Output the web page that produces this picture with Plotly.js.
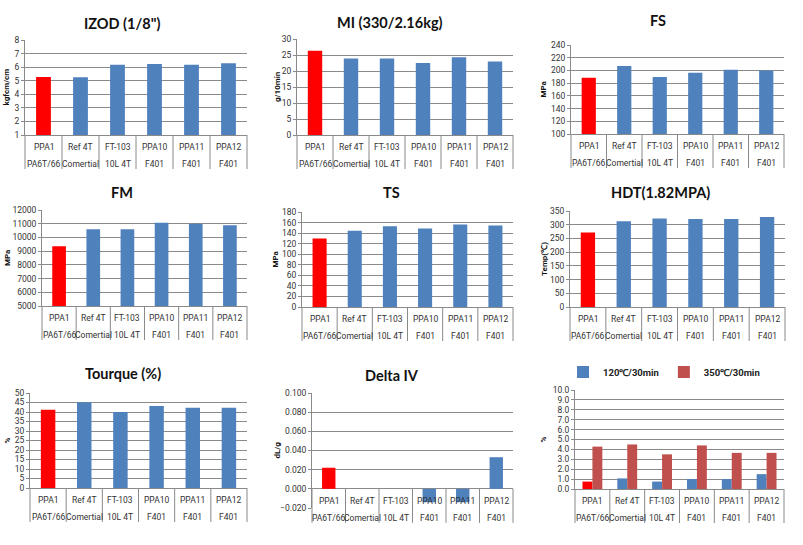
<!DOCTYPE html>
<html><head><meta charset="utf-8">
<script src="https://cdn.plot.ly/plotly-3.0.1.min.js"></script>
<style>html,body{margin:0;padding:0;background:#fff}#chart{width:803px;height:545px}</style>
</head><body><div id="chart"></div>
<script>
// ---- data ----
const cats = ["PPA1", "Ref 4T", "FT-103", "PPA10", "PPA11", "PPA12"];
const grades = ["PA6T/66", "Comertial", "10L 4T", "F401", "F401", "F401"];
const izod = [5.28, 5.26, 6.17, 6.23, 6.17, 6.28];
const mi = [26.3, 23.9, 23.9, 22.5, 24.3, 23.0];
const fs = [188.6, 207, 189.6, 196.5, 201, 199.7];
const fm = [9350, 10590, 10590, 11070, 11000, 10880];
const ts = [130, 144.5, 153, 148.5, 156.5, 154.5];
const hdt = [272, 313, 323, 321, 321, 328];
const torque = [41.2, 45.1, 40, 43.2, 42.3, 42.3];
const deltaIV = [0.022, null, null, -0.014, -0.014, 0.033];
const loss120 = [0.75, 1.07, 0.75, 1.0, 1.0, 1.5];
const loss350 = [4.28, 4.5, 3.5, 4.4, 3.65, 3.65];
const legendNames = ["120℃/30min", "350℃/30min"];

// ---- styling / layout ----
const W = 803, H = 545;
const RED = '#FF0000', BLUE = '#4F81BD', DRED = '#C0504D', GRID = '#8a8a8a', TXT = '#333333';
const FONT = 'Roboto, "Liberation Sans", Arial, sans-serif';
const TFONT = 'Lato, Roboto, sans-serif';
const panels = [
  {title: 'IZOD (1/8")', ytitle: 'kgfcm/cm', y: izod, range: [1, 8], dtick: 1, fmt: 'd', box: [25, 247, 40, 135], tx: 122, ty: 23, yts: -19},
  {title: 'MI (330/2.16kg)', ytitle: 'g/10min', y: mi, range: [0, 30], dtick: 5, fmt: 'd', box: [297, 513, 39, 135], tx: 390, ty: 22, yts: -20},
  {title: 'FS', ytitle: 'MPa', y: fs, range: [100, 240], dtick: 20, fmt: 'd', box: [571, 784, 45, 134], tx: 658, ty: 20, yts: -28},
  {title: 'FM', ytitle: 'MPa', y: fm, range: [5000, 12000], dtick: 1000, fmt: 'd', box: [42, 247, 210, 306], tx: 122, ty: 192, yts: -35},
  {title: 'TS', ytitle: 'MPa', y: ts, range: [0, 180], dtick: 20, fmt: 'd', box: [302, 513, 212, 307], tx: 391, ty: 193, yts: -27},
  {title: 'HDT(1.82MPA)', ytitle: 'Temp(℃)', y: hdt, range: [0, 350], dtick: 50, fmt: 'd', box: [570, 785, 211, 307], tx: 660, ty: 193, yts: -26},
  {title: 'Tourque (%)', ytitle: '%', y: torque, range: [0, 50], dtick: 5, fmt: 'd', box: [30, 247, 393, 488], tx: 123, ty: 373, yts: -23},
  {title: 'Delta IV', ytitle: 'dL/g', y: deltaIV, range: [-0.02, 0.1], dtick: 0.02, fmt: '.3f', box: [312, 513, 393, 508], tx: 392, ty: 375, yts: -35, base: 0},
  {title: '', ytitle: '%', y: null, range: [0, 10], dtick: 1, fmt: '.1f', box: [575, 784, 390, 489], yts: -32}
];

const data = [];
const layout = {
  width: W, height: H,
  margin: {l: 0, r: 0, t: 0, b: 0},
  paper_bgcolor: '#fff', plot_bgcolor: '#fff',
  showlegend: true,
  barmode: 'group',
  font: {family: FONT, size: 8.5, color: TXT},
  legend: {orientation: 'h', x: 664 / W, xanchor: 'center', y: 1 - 372 / H, yanchor: 'middle',
           font: {family: FONT, size: 9.5, color: '#222', weight: 'bold'}, itemwidth: 30, bgcolor: 'rgba(0,0,0,0)'},
  annotations: [], shapes: []
};
const colorsSingle = cats.map((c, i) => i === 0 ? RED : BLUE);
const nC = cats.length;

panels.forEach((p, k) => {
  const n = k + 1;
  const xid = n === 1 ? 'x' : 'x' + n;
  const yid = n === 1 ? 'y' : 'y' + n;
  const xkey = n === 1 ? 'xaxis' : 'xaxis' + n;
  const ykey = n === 1 ? 'yaxis' : 'yaxis' + n;
  const [l, r, t, b] = p.box;
  const base = (p.base !== undefined) ? p.base : p.range[0];
  const baseFrac = (base - p.range[0]) / (p.range[1] - p.range[0]);
  layout[xkey] = {
    domain: [l / W, r / W], anchor: yid, type: 'category', range: [-0.5, nC - 0.5],
    showticklabels: false, ticks: '', showgrid: false, zeroline: false,
    showline: p.base === undefined, linecolor: GRID, linewidth: 1, fixedrange: true
  };
  layout[ykey] = {
    domain: [1 - b / H, 1 - t / H], anchor: xid, range: p.range, dtick: p.dtick, tick0: p.range[0],
    tickformat: p.fmt, showgrid: true, gridcolor: GRID, gridwidth: 1,
    zeroline: p.base !== undefined, zerolinecolor: GRID, zerolinewidth: 1,
    showline: true, linecolor: GRID, linewidth: 1, ticks: 'outside', ticklen: 3, tickcolor: GRID,
    tickfont: {family: FONT, size: 8.5, color: TXT}, fixedrange: true
  };
  if (n < 9) {
    data.push({type: 'bar', x: cats, y: p.y, xaxis: xid, yaxis: yid, width: 0.4, showlegend: false,
               marker: {color: colorsSingle, line: {width: 0}}, hoverinfo: 'x+y'});
    layout.annotations.push({xref: 'paper', yref: 'paper', x: p.tx / W, y: 1 - p.ty / H, xanchor: 'center', yanchor: 'middle',
      text: '<b>' + p.title + '</b>', showarrow: false, font: {family: TFONT, size: 14.5, color: '#111'}});
  } else {
    data.push({type: 'bar', x: cats, y: loss120, xaxis: xid, yaxis: yid, width: 0.285, offset: -0.285, showlegend: false,
               name: legendNames[0], marker: {color: colorsSingle, line: {width: 0}}});
    data.push({type: 'bar', x: cats, y: loss350, xaxis: xid, yaxis: yid, width: 0.285, offset: 0, showlegend: false,
               name: legendNames[1], marker: {color: DRED, line: {width: 0}}});
    data.push({type: 'bar', x: [null], y: [null], xaxis: xid, yaxis: yid, name: legendNames[0], marker: {color: BLUE}, showlegend: true});
    data.push({type: 'bar', x: [null], y: [null], xaxis: xid, yaxis: yid, name: legendNames[1], marker: {color: DRED}, showlegend: true});
  }
  // y title
  layout.annotations.push({xref: xid + ' domain', yref: yid + ' domain', x: 0, y: 0.5, xshift: p.yts, xanchor: 'center', yanchor: 'middle',
    textangle: -90, text: '<b>' + p.ytitle + '</b>', showarrow: false, font: {family: FONT, size: 8, color: '#111'}});
  // category labels (two rows) and dividers
  cats.forEach((c, j) => {
    layout.annotations.push({xref: xid, yref: yid, x: j, y: base, yshift: -12, yanchor: 'middle', xanchor: 'center',
      text: c, showarrow: false, font: {family: FONT, size: 8.5, color: TXT}});
    layout.annotations.push({xref: xid, yref: yid, x: j, y: base, yshift: -29, yanchor: 'middle', xanchor: 'center',
      text: grades[j], showarrow: false, font: {family: FONT, size: 8.5, color: TXT}});
  });
  for (let j = 0; j <= nC; j++) {
    layout.shapes.push({type: 'line', xref: xid + ' domain', yref: yid + ' domain', x0: j / nC, x1: j / nC,
      ysizemode: 'pixel', yanchor: baseFrac, y0: 0, y1: -34, line: {color: GRID, width: 1}});
  }
});

Plotly.newPlot('chart', data, layout, {displayModeBar: false, staticPlot: true});
</script>
</body></html>
